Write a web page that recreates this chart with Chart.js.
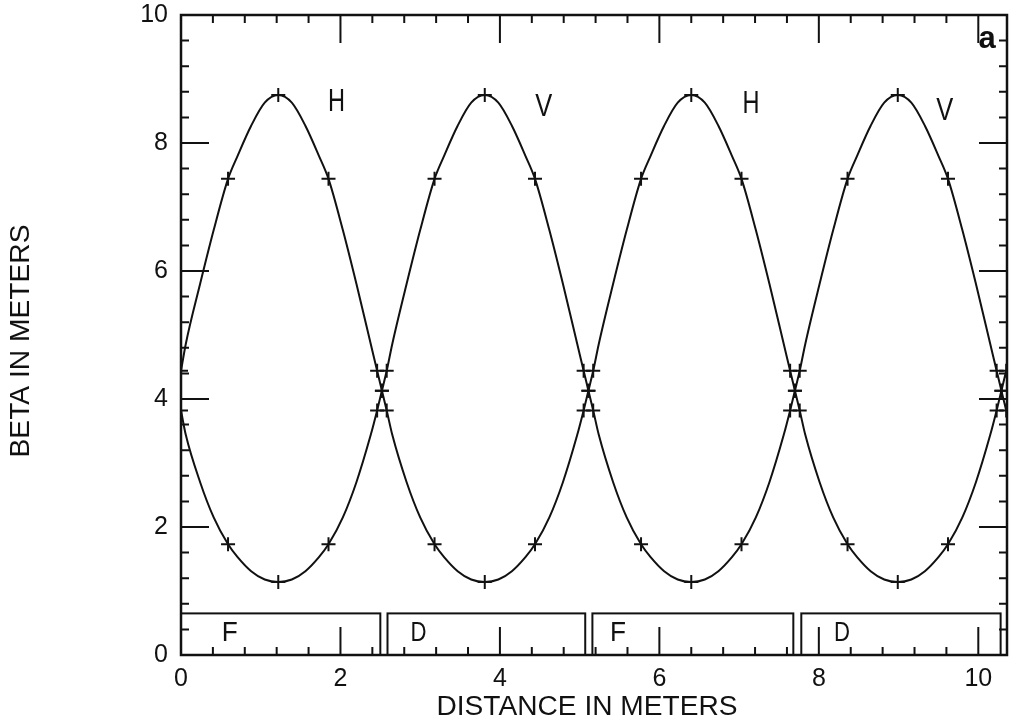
<!DOCTYPE html>
<html>
<head>
<meta charset="utf-8">
<title>Beta functions</title>
<script src="https://cdn.jsdelivr.net/npm/chart.js@4.4.1/dist/chart.umd.min.js"></script>
<style>
  html, body { margin: 0; padding: 0; background: #fff; }
  #wrap { width: 1016px; height: 728px; }
</style>
</head>
<body>
<div id="wrap"><canvas id="betaChart" width="1016" height="728"></canvas></div>
<script>
// Beta functions through four thick quadrupoles (F D F D)

// positions along the lattice (m), one row per quadrupole
const distance = [
  0.00, 0.06, 0.24, 0.41, 0.59, 0.71, 0.88, 1.05, 1.22, 1.39, 1.56, 1.73, 1.85, 2.03, 2.20, 2.38, 2.46, 2.52,
  2.58, 2.65, 2.83, 3.00, 3.18, 3.30, 3.47, 3.64, 3.81, 3.98, 4.15, 4.32, 4.44, 4.62, 4.79, 4.97, 5.05, 5.11,
  5.17, 5.24, 5.42, 5.59, 5.77, 5.89, 6.06, 6.23, 6.40, 6.57, 6.74, 6.91, 7.03, 7.21, 7.38, 7.56, 7.64, 7.70,
  7.76, 7.83, 8.01, 8.18, 8.36, 8.48, 8.65, 8.82, 8.99, 9.16, 9.33, 9.50, 9.62, 9.80, 9.97, 10.15, 10.23, 10.29,
  10.35
];

// horizontal beta (m)
const betaH = [
  4.44, 4.86, 5.80, 6.64, 7.44, 7.80, 8.27, 8.63, 8.75, 8.63, 8.27, 7.80, 7.44, 6.64, 5.80, 4.86, 4.44, 4.13,
  3.82, 3.44, 2.70, 2.15, 1.73, 1.53, 1.31, 1.18, 1.14, 1.18, 1.31, 1.53, 1.73, 2.15, 2.70, 3.44, 3.82, 4.13,
  4.44, 4.86, 5.80, 6.64, 7.44, 7.80, 8.27, 8.63, 8.75, 8.63, 8.27, 7.80, 7.44, 6.64, 5.80, 4.86, 4.44, 4.13,
  3.82, 3.44, 2.70, 2.15, 1.73, 1.53, 1.31, 1.18, 1.14, 1.18, 1.31, 1.53, 1.73, 2.15, 2.70, 3.44, 3.82, 4.13,
  4.44
];

// vertical beta (m)
const betaV = [
  3.82, 3.44, 2.70, 2.15, 1.73, 1.53, 1.31, 1.18, 1.14, 1.18, 1.31, 1.53, 1.73, 2.15, 2.70, 3.44, 3.82, 4.13,
  4.44, 4.86, 5.80, 6.64, 7.44, 7.80, 8.27, 8.63, 8.75, 8.63, 8.27, 7.80, 7.44, 6.64, 5.80, 4.86, 4.44, 4.13,
  3.82, 3.44, 2.70, 2.15, 1.73, 1.53, 1.31, 1.18, 1.14, 1.18, 1.31, 1.53, 1.73, 2.15, 2.70, 3.44, 3.82, 4.13,
  4.44, 4.86, 5.80, 6.64, 7.44, 7.80, 8.27, 8.63, 8.75, 8.63, 8.27, 7.80, 7.44, 6.64, 5.80, 4.86, 4.44, 4.13,
  3.82
];

// slice boundaries where the optics code printed a value
const markerAt = [
  0.00, 0.59, 1.22, 1.85, 2.46, 2.52, 2.58, 3.18, 3.81, 4.44, 5.05, 5.11, 5.17,
  5.77, 6.40, 7.03, 7.64, 7.70, 7.76, 8.36, 8.99, 9.62, 10.23, 10.29, 10.35
];

// quadrupoles
const magnetType = ['F', 'D', 'F', 'D'];
const magnetStart = [0.00, 2.59, 5.16, 7.78];
const magnetEnd = [2.50, 5.07, 7.68, 10.28];
const magnetHeight = 0.65;

const planeTags = ['H', 'V', 'H', 'V'];

const xMax = 10.36;
const yMax = 10;
const tickStep = 0.4;
const majorEvery = 2;

const INK = '#111';
const plainFont = "'Liberation Sans', 'DejaVu Sans', sans-serif";

function isMajor(v) {
  return Math.abs(v / majorEvery - Math.round(v / majorEvery)) < 1e-6;
}

function toPoints(ys) {
  return distance.map((x, i) => ({ x: x, y: ys[i] }));
}

function crossRadius(ctx) {
  if (!ctx.raw) return 0;
  return markerAt.some(m => Math.abs(m - ctx.raw.x) < 0.005) ? 7 : 0;
}

// text squeezed/stretched to a given width
function fitText(ctx, text, cx, cy, width, angle) {
  ctx.save();
  ctx.translate(cx, cy);
  ctx.rotate(angle);
  const w = ctx.measureText(text).width;
  ctx.scale(width / w, 1);
  ctx.fillText(text, 0, 0);
  ctx.restore();
}

const latticePlugin = {
  id: 'lattice',
  beforeDatasetsDraw(chart) {
    const { ctx, scales: { x, y } } = chart;
    ctx.save();
    ctx.strokeStyle = INK;
    ctx.lineWidth = 2;
    magnetStart.forEach((s, i) => {
      const l = x.getPixelForValue(s);
      const r = x.getPixelForValue(magnetEnd[i]);
      const t = y.getPixelForValue(magnetHeight);
      const b = y.getPixelForValue(0);
      ctx.strokeRect(l, t, r - l, b - t);
    });
    ctx.fillStyle = INK;
    ctx.font = '28px ' + plainFont;
    ctx.textAlign = 'center';
    ctx.textBaseline = 'middle';
    const labelX = [0.61, 2.98, 5.48, 8.29];
    magnetType.forEach((m, i) => {
      fitText(ctx, m, x.getPixelForValue(labelX[i]), y.getPixelForValue(0.34), 16, 0);
    });
    ctx.restore();
  },
  afterDraw(chart) {
    const { ctx, chartArea: a, scales: { x, y } } = chart;
    ctx.save();
    ctx.strokeStyle = INK;
    ctx.lineWidth = 2.5;
    ctx.strokeRect(a.left, a.top, a.right - a.left, a.bottom - a.top);

    // inward ticks on all four sides
    ctx.lineWidth = 2;
    ctx.beginPath();
    x.ticks.forEach(t => {
      const px = x.getPixelForValue(t.value);
      const len = isMajor(t.value) ? 28 : 8;
      ctx.moveTo(px, a.bottom); ctx.lineTo(px, a.bottom - len);
      ctx.moveTo(px, a.top); ctx.lineTo(px, a.top + len);
    });
    y.ticks.forEach(t => {
      const py = y.getPixelForValue(t.value);
      const len = isMajor(t.value) ? 28 : 8;
      ctx.moveTo(a.left, py); ctx.lineTo(a.left + len, py);
      ctx.moveTo(a.right, py); ctx.lineTo(a.right - len, py);
    });
    ctx.stroke();

    // plane tags next to each maximum
    ctx.fillStyle = INK;
    ctx.textAlign = 'center';
    ctx.textBaseline = 'middle';
    ctx.font = '31px ' + plainFont;
    const tagX = [1.95, 4.55, 7.15, 9.58];
    const tagY = [8.63, 8.55, 8.6, 8.5];
    planeTags.forEach((t, i) => {
      fitText(ctx, t, x.getPixelForValue(tagX[i]), y.getPixelForValue(tagY[i]), 17, 0);
    });

    // axis titles
    ctx.font = '27px ' + plainFont;
    fitText(ctx, 'DISTANCE IN METERS', 587, 708, 301, 0);
    fitText(ctx, 'BETA IN METERS', 22, 341, 233, -Math.PI / 2);

    // panel letter
    ctx.font = "bold 31px 'Liberation Sans Narrow', 'Liberation Sans', sans-serif";
    ctx.fillText('a', a.right - 20, a.top + 24);
    ctx.restore();
  }
};

const lineStyle = {
  borderColor: INK,
  borderWidth: 2,
  showLine: true,
  fill: false,
  cubicInterpolationMode: 'monotone',
  pointStyle: 'cross',
  pointRadius: crossRadius,
  pointBorderColor: INK,
  pointBorderWidth: 2,
  pointHoverRadius: 0
};

new Chart(document.getElementById('betaChart'), {
  type: 'scatter',
  data: {
    datasets: [
      Object.assign({ label: 'H', data: toPoints(betaH) }, lineStyle),
      Object.assign({ label: 'V', data: toPoints(betaV) }, lineStyle)
    ]
  },
  options: {
    responsive: false,
    animation: false,
    layout: { padding: { top: 15, right: 6, left: 0, bottom: 0 } },
    plugins: {
      legend: { display: false },
      tooltip: { enabled: false }
    },
    scales: {
      x: {
        type: 'linear',
        min: 0,
        max: xMax,
        border: { display: false },
        grid: { display: false, drawTicks: false },
        ticks: {
          stepSize: tickStep,
          includeBounds: false,
          autoSkip: false,
          maxRotation: 0,
          maxTicksLimit: 100,
          padding: 9,
          color: INK,
          font: { family: plainFont, size: 25 },
          callback: v => isMajor(v) ? String(Math.round(v)) : ''
        },
        afterFit: s => {
          s.height = 73;
          s.paddingLeft = 0;
          s.paddingRight = 0;
        }
      },
      y: {
        type: 'linear',
        min: 0,
        max: yMax,
        border: { display: false },
        grid: { display: false, drawTicks: false },
        ticks: {
          stepSize: tickStep,
          autoSkip: false,
          maxTicksLimit: 100,
          padding: 13,
          color: INK,
          font: { family: plainFont, size: 25 },
          callback: v => isMajor(v) ? String(Math.round(v)) : ''
        },
        afterFit: s => {
          s.width = 181;
          s.paddingTop = 0;
          s.paddingBottom = 0;
        }
      }
    }
  },
  plugins: [latticePlugin]
});
</script>
</body>
</html>
